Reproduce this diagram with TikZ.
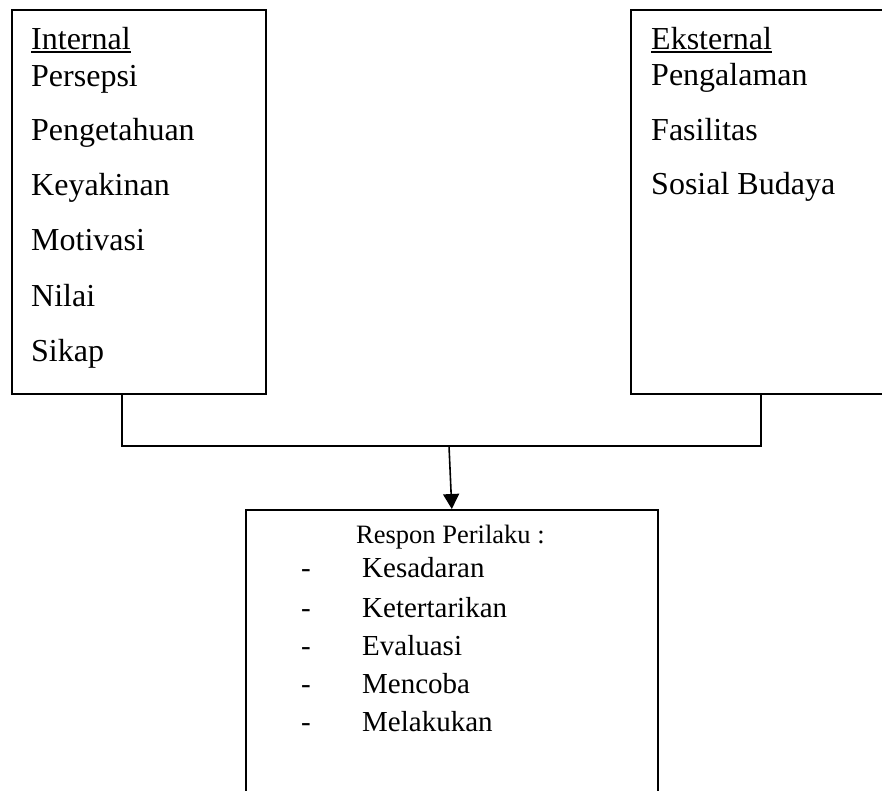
\documentclass[tikz,border=0pt]{standalone}
\usepackage{fontspec}
\setmainfont{Liberation Serif}
\usetikzlibrary{arrows.meta}
\newcommand{\myunder}[1]{\setbox0\hbox{#1}\rlap{\rule[-4pt]{\wd0}{1.6pt}}\box0}
\tikzset{
 box/.style={draw, line width=1.6pt, inner sep=0pt, anchor=north west},
 txt/.style={inner sep=0pt, anchor=base west, font=\fontsize{32}{38}\selectfont},
 itm/.style={inner sep=0pt, anchor=base west, font=\fontsize{29}{34}\selectfont},
 hdr/.style={inner sep=0pt, anchor=base west, font=\fontsize{26.5}{32}\selectfont},
 link/.style={line width=1.6pt},
 arr/.style={line width=1.6pt, -{Triangle[width=16pt,length=15pt]}},
}
\begin{document}
\begin{tikzpicture}[x=1pt,y=-1pt]
\useasboundingbox (0,0) rectangle (882,790);
\clip (0,0) rectangle (882,790);
% boxes
\node[box, minimum width=254pt, minimum height=384pt] (int) at (11,9) {};
\node[box, minimum width=280pt, minimum height=384pt] (ext) at (630,9) {};
\node[box, minimum width=412pt, minimum height=320pt] (resp) at (245,509) {};
% internal texts
\node[txt] (t0) at (31,49) {\myunder{Internal}};
\node[txt] (t1) at (31,86) {Persepsi};
\node[txt] (t2) at (31,140) {Pengetahuan};
\node[txt] (t3) at (31,195) {Keyakinan};
\node[txt] (t4) at (31,250) {Motivasi};
\node[txt] (t5) at (31,306) {Nilai};
\node[txt] (t6) at (31,361) {Sikap};
% external texts
\node[txt] (e0) at (651,49) {\myunder{Eksternal}};
\node[txt] (e1) at (651,85) {Pengalaman};
\node[txt] (e2) at (651,140) {Fasilitas};
\node[txt] (e3) at (651,194) {Sosial Budaya};
% response texts
\node[hdr] (r0) at (356,543) {Respon Perilaku :};
\node[itm] (d1) at (301,577) {-};
\node[itm] (d2) at (301,617) {-};
\node[itm] (d3) at (301,655) {-};
\node[itm] (d4) at (301,693) {-};
\node[itm] (d5) at (301,731) {-};
\node[itm] (r1) at (362,577) {Kesadaran};
\node[itm] (r2) at (362,617) {Ketertarikan};
\node[itm] (r3) at (362,655) {Evaluasi};
\node[itm] (r4) at (362,693) {Mencoba};
\node[itm] (r5) at (362,731) {Melakukan};
% connectors
\coordinate (jl) at (122,446);
\coordinate (jr) at (761,446);
\coordinate (js) at (449,446);
\draw[link] (int.south -| jl) -- (jl) -- (jr) -- (ext.south -| jr);
\draw[arr] (js) -- (resp.north);
\end{tikzpicture}
\end{document}
